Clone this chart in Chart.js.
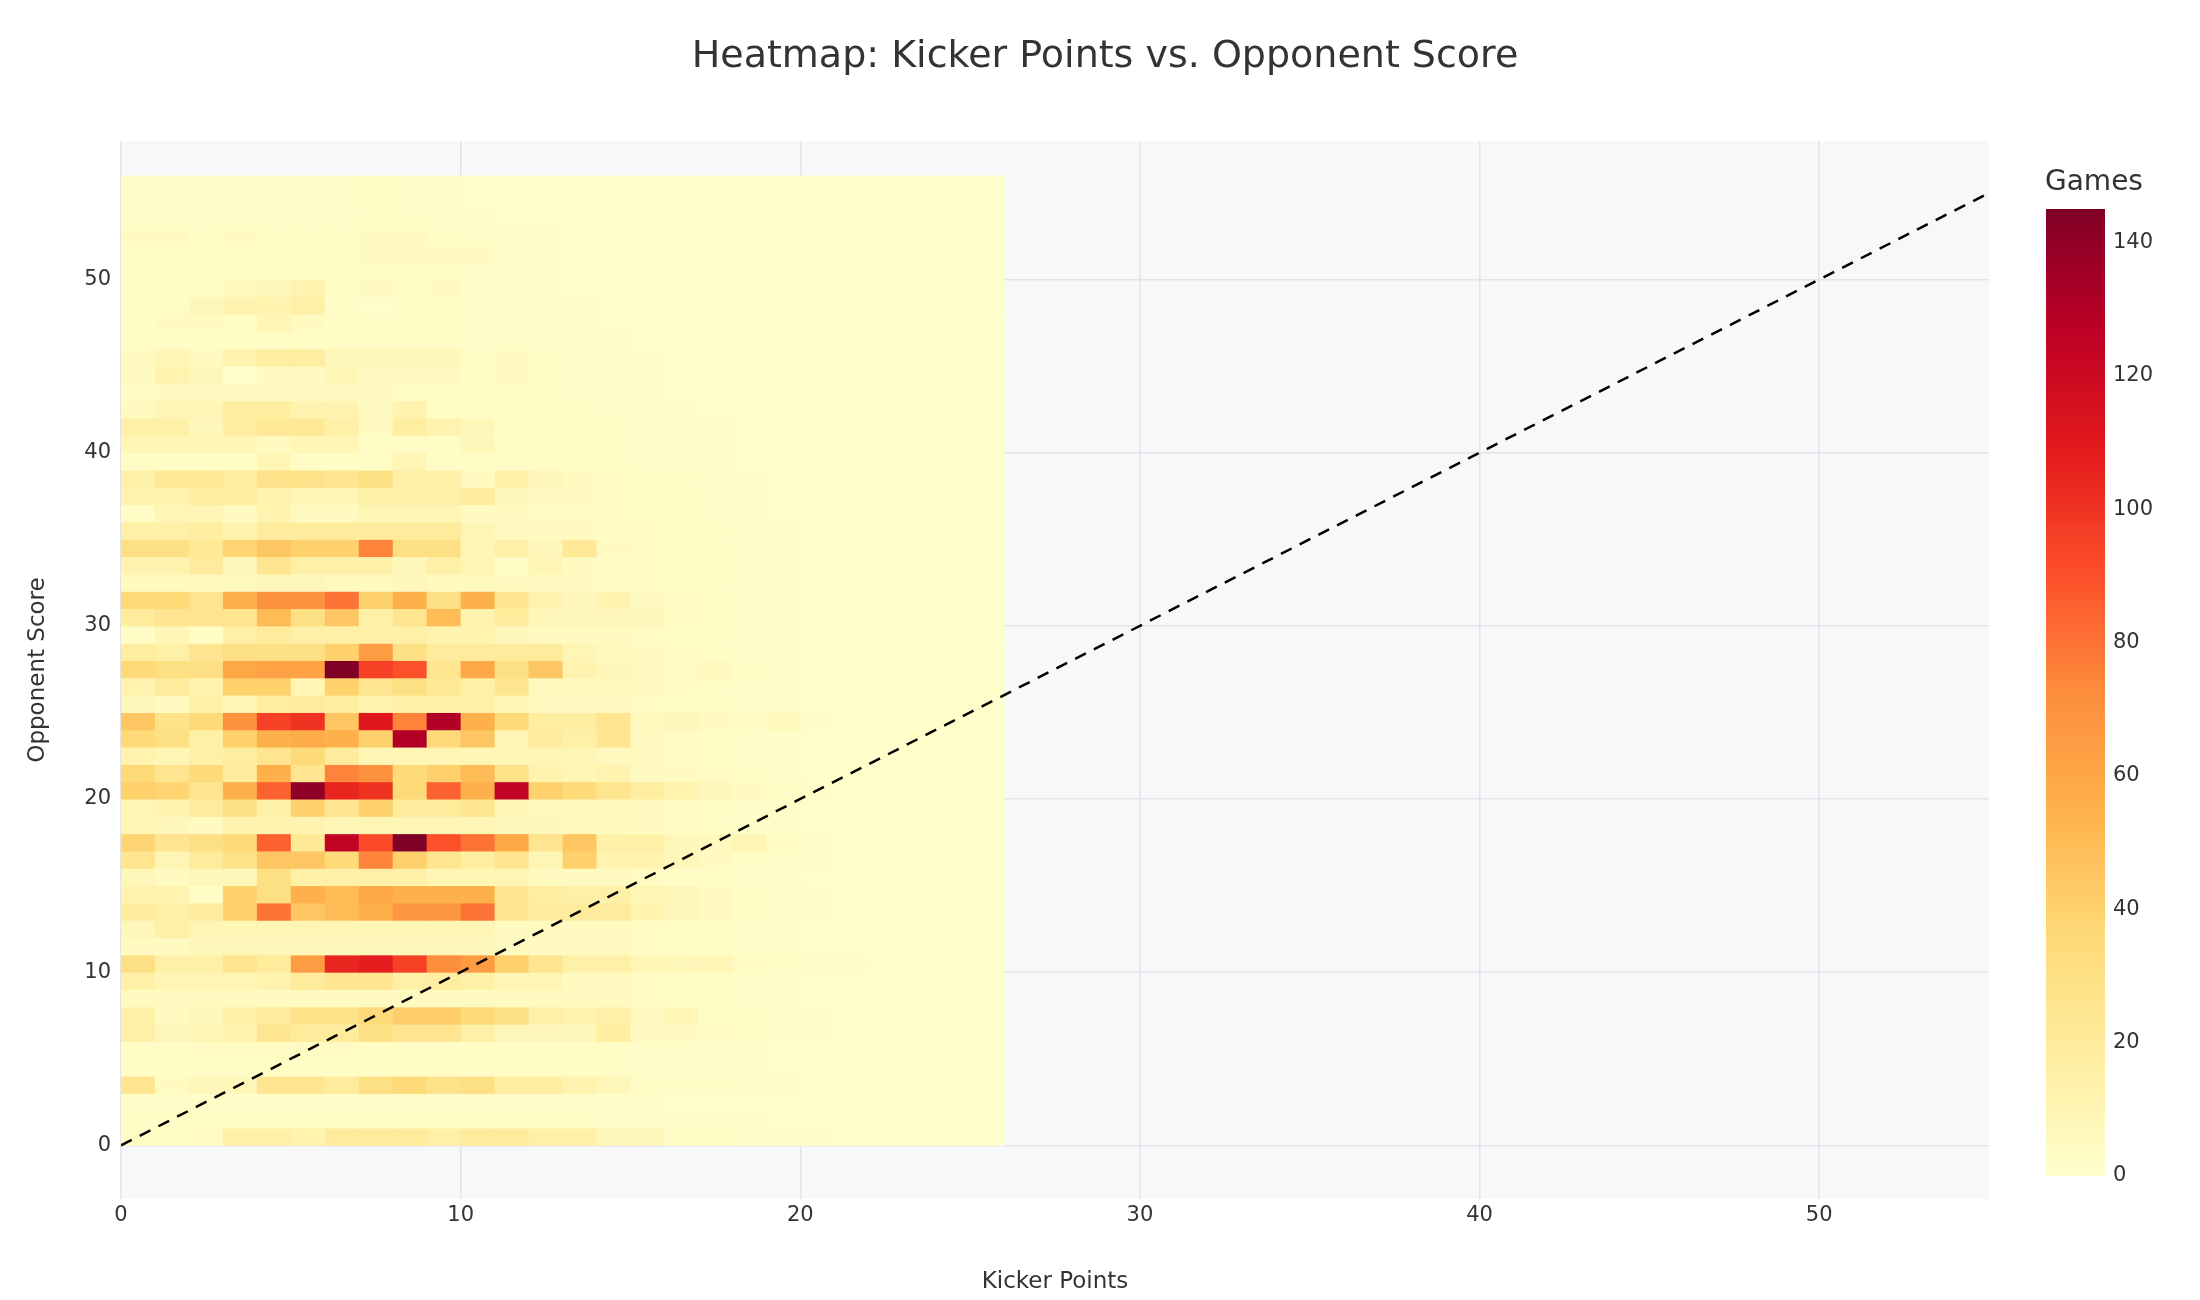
<!DOCTYPE html>
<html lang="en">
<head>
    <meta charset="UTF-8">
    <title>Heatmap: Kicker Points vs. Opponent Score</title>
    <script src="https://cdn.jsdelivr.net/npm/chart.js"></script>
    <style>
        body { margin: 0; background: #ffffff; }
        canvas { display: block; }
    </style>
</head>
<body>
    <canvas id="heatmap" width="2200" height="1300"></canvas>

    <script>
        // bins: kicker points 0..25 (columns), opponent score 0..55 (rows)
        const kickerPoints = [0,1,2,3,4,5,6,7,8,9,10,11,12,13,14,15,16,17,18,19,20,21,22,23,24,25];
        const opponentScores = [0,1,2,3,4,5,6,7,8,9,10,11,12,13,14,15,16,17,18,19,20,21,22,23,24,25,26,27,
            28,29,30,31,32,33,34,35,36,37,38,39,40,41,42,43,44,45,46,47,48,49,50,51,52,53,54,55];
        const xTicks = [0, 10, 20, 30, 40, 50];
        const yTicks = [0, 10, 20, 30, 40, 50];
        const colorbarTicks = [0, 20, 40, 60, 80, 100, 120, 140];

        // games per cell, one row per opponent score (row 0 = score 0)
        const gamesByRow = [
            [3,3,4,15,15,12,20,20,20,15,20,20,15,15,8,8,3,3,2,2,2,1,1,1,1,1],
            [3,3,3,3,3,3,3,3,3,3,3,3,3,3,2,2,2,2,2,1,1,1,1,1,1,1],
            [2,2,2,2,2,2,2,2,2,2,2,2,2,2,2,2,1,1,1,1,1,1,1,1,1,1],
            [25,5,8,8,25,25,20,30,35,28,30,18,18,12,8,3,3,3,2,2,1,1,1,1,1,1],
            [3,3,3,3,3,3,3,3,3,3,3,3,3,3,3,2,2,2,2,1,1,1,1,1,1,1],
            [3,3,4,4,4,4,4,3,3,3,3,3,3,3,3,2,2,2,2,1,1,1,1,1,1,1],
            [15,8,10,12,25,20,20,30,25,25,15,8,8,8,18,5,5,4,3,2,2,1,1,1,1,1],
            [15,5,8,15,20,28,28,35,42,42,35,30,15,12,15,5,10,3,3,2,2,1,1,1,1,1],
            [5,5,5,5,5,5,5,5,5,5,5,5,5,5,5,4,3,3,2,2,1,1,1,1,1,1],
            [15,10,10,10,12,20,25,25,15,18,15,10,10,5,5,4,3,3,2,2,1,1,1,1,1,1],
            [30,15,15,25,20,65,105,108,95,72,65,40,25,15,15,10,8,10,4,3,2,2,1,1,1,1],
            [5,5,8,8,8,8,8,8,8,8,8,5,5,5,5,4,3,3,2,2,1,1,1,1,1,1],
            [8,15,10,10,10,10,10,10,10,10,10,5,5,5,5,4,3,3,2,2,1,1,1,1,1,1],
            [20,15,20,40,80,45,50,55,68,68,80,25,20,20,20,12,8,5,3,2,2,1,1,1,1,1],
            [12,12,3,40,30,55,50,60,55,55,55,25,18,15,15,10,8,5,3,2,2,1,1,1,1,1],
            [8,5,8,8,30,15,15,15,15,10,10,10,5,5,5,4,3,3,2,2,1,1,1,1,1,1],
            [25,10,20,28,45,45,35,75,40,25,18,25,10,40,12,12,8,5,3,2,2,1,1,1,1,1],
            [38,25,30,35,85,22,125,92,145,90,80,60,25,45,15,15,8,6,10,4,2,1,1,1,1,1],
            [10,8,5,12,12,12,10,10,10,10,10,8,8,6,6,5,4,3,2,2,1,1,1,1,1,1],
            [10,12,20,30,15,40,25,40,20,20,25,10,6,6,6,5,4,3,2,2,1,1,1,1,1,1],
            [40,38,25,55,85,140,105,100,35,85,55,125,40,35,25,18,12,8,5,3,2,1,1,1,1,1],
            [35,25,35,20,55,25,75,70,35,40,50,28,12,10,12,5,5,4,3,2,1,1,1,1,1,1],
            [12,10,15,18,25,35,20,10,10,10,10,10,10,10,6,5,4,3,2,2,1,1,1,1,1,1],
            [35,30,15,40,55,58,55,40,130,35,45,10,20,15,25,5,4,3,2,2,1,1,1,1,1,1],
            [45,28,35,70,95,100,45,110,75,130,55,35,18,18,25,6,8,5,4,6,2,1,1,1,1,1],
            [8,5,15,10,18,20,18,12,15,15,15,10,5,5,5,4,3,3,2,2,1,1,1,1,1,1],
            [12,20,12,40,40,10,40,25,30,22,15,25,6,6,6,5,4,3,2,2,1,1,1,1,1,1],
            [35,30,30,60,62,62,145,95,90,25,60,30,45,12,8,5,4,6,3,2,1,1,1,1,1,1],
            [18,15,25,30,30,30,40,65,30,20,20,20,20,10,6,5,4,3,2,2,1,1,1,1,1,1],
            [3,10,3,15,20,15,15,15,15,12,12,8,5,5,5,4,3,3,2,2,1,1,1,1,1,1],
            [20,25,25,25,50,30,45,15,25,50,12,20,8,8,8,8,4,3,2,2,1,1,1,1,1,1],
            [35,35,25,55,70,70,80,40,55,30,55,25,12,8,12,5,4,3,2,2,1,1,1,1,1,1],
            [6,6,6,6,8,8,6,6,8,6,6,5,5,5,4,4,3,3,2,2,1,1,1,1,1,1],
            [12,12,20,8,25,15,15,15,8,15,10,3,10,5,4,4,3,3,2,2,1,1,1,1,1,1],
            [30,30,22,38,45,40,40,75,30,30,10,15,8,22,5,4,3,3,2,2,1,1,1,1,1,1],
            [15,15,18,12,20,20,20,20,20,20,10,5,5,5,4,4,3,3,2,2,1,1,1,1,1,1],
            [3,10,10,5,12,5,5,10,10,10,5,5,4,4,4,3,3,2,2,1,1,1,1,1,1,1],
            [12,12,18,18,12,10,10,15,15,15,20,8,5,5,4,3,3,2,2,1,1,1,1,1,1,1],
            [15,22,22,18,28,28,25,30,15,15,5,15,8,5,4,3,3,2,2,1,1,1,1,1,1,1],
            [3,3,3,3,10,3,3,3,10,3,3,3,3,3,3,2,2,2,1,1,1,1,1,1,1,1],
            [10,10,10,10,5,10,10,3,3,3,8,3,3,3,3,2,2,2,1,1,1,1,1,1,1,1],
            [15,15,8,18,22,22,15,5,18,12,8,3,3,3,3,2,2,2,1,1,1,1,1,1,1,1],
            [5,10,10,18,18,12,12,5,12,3,3,3,3,3,2,2,2,1,1,1,1,1,1,1,1,1],
            [4,5,5,5,5,5,5,5,3,3,3,3,3,2,2,2,1,1,1,1,1,1,1,1,1,1],
            [5,12,8,1,5,5,10,5,5,5,3,5,3,2,2,2,1,1,1,1,1,1,1,1,1,1],
            [5,10,5,12,18,18,8,8,8,8,3,5,3,2,2,2,1,1,1,1,1,1,1,1,1,1],
            [3,3,3,3,3,3,3,3,3,3,2,2,2,2,2,1,1,1,1,1,1,1,1,1,1,1],
            [3,5,5,3,10,5,3,3,3,3,2,2,2,2,1,1,1,1,1,1,1,1,1,1,1,1],
            [3,3,8,12,12,15,3,1,3,3,2,2,2,2,1,1,1,1,1,1,1,1,1,1,1,1],
            [3,3,3,6,8,12,3,5,3,5,2,2,2,1,1,1,1,1,1,1,1,1,1,1,1,1],
            [3,3,3,3,3,3,3,3,3,3,2,2,2,1,1,1,1,1,1,1,1,1,1,1,1,1],
            [3,3,3,3,3,3,3,5,5,5,5,2,2,1,1,1,1,1,1,1,1,1,1,1,1,1],
            [5,5,3,5,3,3,3,5,5,3,2,2,2,1,1,1,1,1,1,1,1,1,1,1,1,1],
            [2,2,2,2,2,2,2,3,3,2,2,1,1,1,1,1,1,1,1,1,1,1,1,1,1,1],
            [2,2,2,2,2,2,2,3,2,2,1,1,1,1,1,1,1,1,1,1,1,1,1,1,1,1],
            [2,2,2,2,2,2,2,3,2,2,1,1,1,1,1,1,1,1,1,1,1,1,1,1,1,1]
        ];
        const zMax = 145;

        // YlOrRd colour scale
        const colorStops = [
            [0, [255,255,204]], [0.125, [255,237,160]], [0.25, [254,217,118]],
            [0.375, [254,178,76]], [0.5, [253,141,60]], [0.625, [252,78,42]],
            [0.75, [227,26,28]], [0.875, [189,0,38]], [1, [128,0,38]]
        ];

        function colorFor(v) {
            const t = Math.max(0, Math.min(1, v / zMax));
            for (let i = 1; i < colorStops.length; i++) {
                if (t <= colorStops[i][0]) {
                    const [t0, c0] = colorStops[i - 1];
                    const [t1, c1] = colorStops[i];
                    const f = (t - t0) / (t1 - t0);
                    const c = c0.map((a, k) => Math.round(a + (c1[k] - a) * f));
                    return `rgb(${c[0]},${c[1]},${c[2]})`;
                }
            }
            return 'rgb(128,0,38)';
        }

        const textColor = '#333333';
        const fontFamily = "'DejaVu Sans', sans-serif";

        // heat cells, drawn through the chart scales
        const heatmapPlugin = {
            id: 'heatmap',
            beforeDatasetsDraw(chart) {
                const { ctx, scales: { x, y } } = chart;
                ctx.save();
                opponentScores.forEach((score, r) => {
                    kickerPoints.forEach((pts, c) => {
                        const x0 = x.getPixelForValue(pts);
                        const x1 = x.getPixelForValue(pts + 1);
                        const y0 = y.getPixelForValue(score + 1);
                        const y1 = y.getPixelForValue(score);
                        ctx.fillStyle = colorFor(gamesByRow[r][c]);
                        ctx.fillRect(x0, y0, x1 - x0 + 0.5, y1 - y0 + 0.5);
                    });
                });
                ctx.restore();
            }
        };

        const backgroundPlugin = {
            id: 'plotBg',
            beforeDraw(chart) {
                const { ctx, chartArea: a } = chart;
                ctx.save();
                ctx.fillStyle = '#f7f8fa';
                ctx.fillRect(a.left, a.top, a.right - a.left, a.bottom - a.top);
                ctx.restore();
            }
        };

        // figure title (centred on the whole figure) and colour bar
        const colorbarPlugin = {
            id: 'colorbar',
            afterDraw(chart) {
                const { ctx } = chart;
                const left = 2046, width = 59, top = 209, bottom = 1176;
                ctx.save();
                ctx.fillStyle = textColor;
                ctx.font = `38px ${fontFamily}`;
                ctx.textAlign = 'center';
                ctx.textBaseline = 'middle';
                ctx.fillText('Heatmap: Kicker Points vs. Opponent Score', 1105, 57);

                const grad = ctx.createLinearGradient(0, bottom, 0, top);
                colorStops.forEach(([t, c]) => grad.addColorStop(t, `rgb(${c[0]},${c[1]},${c[2]})`));
                ctx.fillStyle = grad;
                ctx.fillRect(left, top, width, bottom - top);
                ctx.fillStyle = textColor;
                ctx.font = `21px ${fontFamily}`;
                ctx.textAlign = 'left';
                colorbarTicks.forEach(v => {
                    const py = bottom - (v / zMax) * (bottom - top);
                    ctx.fillText(String(v), left + width + 8, py);
                });
                ctx.font = `28px ${fontFamily}`;
                ctx.textBaseline = 'alphabetic';
                ctx.fillText('Games', left - 1, 190);
                ctx.restore();
            }
        };

        new Chart(document.getElementById('heatmap').getContext('2d'), {
            type: 'scatter',
            data: {
                datasets: [{
                    data: [{ x: 0, y: 0 }, { x: 55, y: 55 }],
                    showLine: true,
                    borderColor: '#000000',
                    borderWidth: 2.5,
                    borderDash: [12, 9],
                    pointRadius: 0
                }]
            },
            options: {
                responsive: false,
                animation: false,
                layout: { padding: { left: 20, right: 211, top: 141, bottom: 0 } },
                plugins: {
                    legend: { display: false },
                    tooltip: { enabled: false },
                    title: { display: false }
                },
                scales: {
                    x: {
                        type: 'linear',
                        min: 0,
                        max: 55,
                        afterFit: s => { s.height = 101; },
                        afterBuildTicks: s => { s.ticks = xTicks.map(v => ({ value: v })); },
                        grid: { color: '#e2e4e8', lineWidth: 1.5, drawTicks: false },
                        border: { display: false },
                        ticks: { color: textColor, font: { size: 21, family: fontFamily }, padding: 4 },
                        title: {
                            display: true,
                            text: 'Kicker Points',
                            color: textColor,
                            font: { size: 23, family: fontFamily },
                            padding: { top: 6 }
                        }
                    },
                    y: {
                        type: 'linear',
                        min: -3.1,
                        max: 58,
                        afterFit: s => { s.width = 101; },
                        afterBuildTicks: s => { s.ticks = yTicks.map(v => ({ value: v })); },
                        grid: { color: '#e2e4e8', lineWidth: 1.5, drawTicks: false },
                        border: { display: false },
                        ticks: { color: textColor, font: { size: 21, family: fontFamily }, padding: 10 },
                        title: {
                            display: true,
                            text: 'Opponent Score',
                            color: textColor,
                            font: { size: 23, family: fontFamily },
                            padding: { bottom: 24 }
                        }
                    }
                }
            },
            plugins: [backgroundPlugin, heatmapPlugin, colorbarPlugin]
        });
    </script>
</body>
</html>
